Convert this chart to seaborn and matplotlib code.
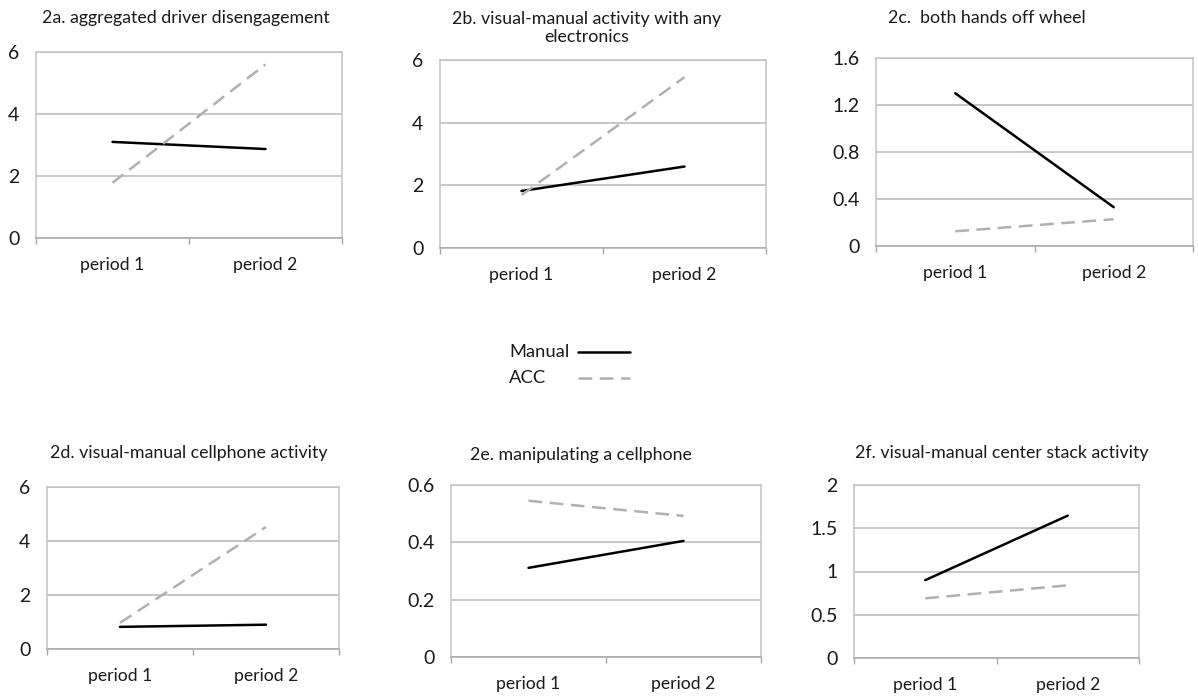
import pandas as pd
import matplotlib.pyplot as plt
import seaborn as sns
from matplotlib.lines import Line2D

# -----------------------------
# data
# -----------------------------
periods = ["period 1", "period 2"]
modes = ["Manual", "ACC"]

titles = [
    "2a. aggregated driver disengagement",
    "2b. visual-manual activity with any\nelectronics",
    "2c.  both hands off wheel",
    "2d. visual-manual cellphone activity",
    "2e. manipulating a cellphone",
    "2f. visual-manual center stack activity",
]
manual_vals = [
    [3.10, 2.87],
    [1.82, 2.60],
    [1.30, 0.33],
    [0.82, 0.90],
    [0.311, 0.405],
    [0.90, 1.646],
]
acc_vals = [
    [1.78, 5.60],
    [1.69, 5.45],
    [0.125, 0.228],
    [0.97, 4.52],
    [0.545, 0.492],
    [0.69, 0.84],
]
y_ticks = [
    [0, 2, 4, 6],
    [0, 2, 4, 6],
    [0, 0.4, 0.8, 1.2, 1.6],
    [0, 2, 4, 6],
    [0, 0.2, 0.4, 0.6],
    [0, 0.5, 1, 1.5, 2],
]

# -----------------------------
# layout (pixels in a 1198x696 canvas)
# -----------------------------
W, H = 1198, 696
# left, top, right, bottom of each plot area
boxes = [
    (36, 52, 342, 238),
    (440, 60, 766, 248),
    (876, 58, 1193, 246),
    (47, 487, 339, 649),
    (451, 485, 761, 657),
    (854, 485, 1139, 658),
]
title_pos = [(186, 18), (587, 28), (987, 18), (189, 453), (581, 455), (1002, 453)]

sns.set_theme(style="white")
plt.rcParams["font.family"] = ["Lato", "DejaVu Sans"]

palette = {"Manual": "black", "ACC": "#b0b0b0"}
dashes = {"Manual": "", "ACC": (5.5, 3)}
grid_c = "#c3c3c3"
text_c = "#1a1a1a"

fig = plt.figure(figsize=(W / 100, H / 100), dpi=100)

for i in range(6):
    l, t, r, b = boxes[i]
    ax = fig.add_axes([l / W, 1 - b / H, (r - l) / W, (b - t) / H])
    df = pd.DataFrame({
        "period": periods * 2,
        "value": manual_vals[i] + acc_vals[i],
        "mode": ["Manual"] * 2 + ["ACC"] * 2,
    })
    sns.lineplot(data=df, x="period", y="value", hue="mode", style="mode",
                 palette=palette, dashes=dashes, linewidth=1.8,
                 legend=False, ax=ax)
    ax.set_xlim(-0.5, 1.5)
    ax.set_ylim(y_ticks[i][0], y_ticks[i][-1])
    ax.set_yticks(y_ticks[i])
    ax.set_yticklabels([f"{v:g}" for v in y_ticks[i]])
    ax.set_xticks([-0.5, 0.5, 1.5], minor=True)
    ax.set_xlabel("")
    ax.set_ylabel("")
    ax.grid(axis="y", color=grid_c, linewidth=1.3)
    ax.grid(axis="x", visible=False)
    for side in ["top", "left", "right"]:
        ax.spines[side].set_color(grid_c)
        ax.spines[side].set_linewidth(1.1)
    ax.spines["bottom"].set_color("#a8a8a8")
    ax.spines["bottom"].set_linewidth(1.1)
    ax.tick_params(axis="y", length=0, pad=12, labelsize=14, labelcolor=text_c)
    ax.tick_params(axis="x", which="major", length=0, pad=14, labelsize=12.6,
                   labelcolor=text_c)
    ax.tick_params(axis="x", which="minor", length=4, width=1, color="#a8a8a8",
                   direction="out", bottom=True)

    tx, ty = title_pos[i]
    fig.text(tx / W, 1 - ty / H, titles[i], ha="center", va="center",
             fontsize=12.8, color=text_c, linespacing=1.15)

# legend between the two rows: label first, sample line after
for j, m in enumerate(modes):
    y = 1 - (352 + 26 * j) / H
    fig.text(509 / W, y, m, ha="left", va="center", fontsize=13.2, color=text_c)
    fig.add_artist(Line2D([578 / W, 630 / W], [y, y], transform=fig.transFigure,
                          color=palette[m], linewidth=1.8,
                          linestyle="-" if m == "Manual" else (0, dashes[m])))

fig.savefig("out.png", dpi=100)
